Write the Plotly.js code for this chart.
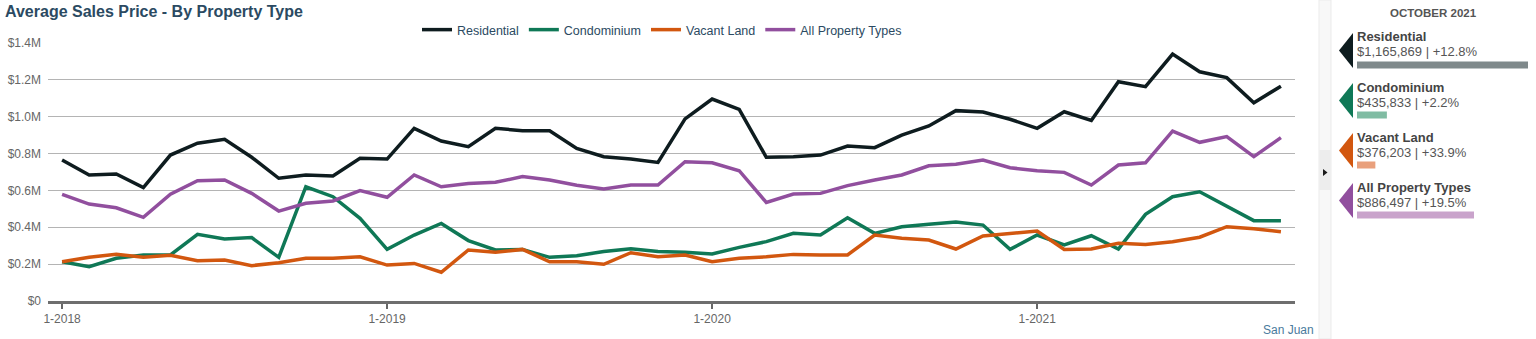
<!DOCTYPE html>
<html>
<head>
<meta charset="utf-8">
<script src="https://cdn.plot.ly/plotly-3.0.1.min.js"></script>
<style>
  html, body { margin: 0; padding: 0; background: #ffffff; }
  #chart { width: 1536px; height: 339px; }
</style>
</head>
<body>
<div id="chart"></div>
<script>
// ---------- DATA ----------
const months = [
  "1-2018","2-2018","3-2018","4-2018","5-2018","6-2018","7-2018","8-2018","9-2018","10-2018","11-2018","12-2018",
  "1-2019","2-2019","3-2019","4-2019","5-2019","6-2019","7-2019","8-2019","9-2019","10-2019","11-2019","12-2019",
  "1-2020","2-2020","3-2020","4-2020","5-2020","6-2020","7-2020","8-2020","9-2020","10-2020","11-2020","12-2020",
  "1-2021","2-2021","3-2021","4-2021","5-2021","6-2021","7-2021","8-2021","9-2021","10-2021"
];

const residential = [
  765000, 684000, 689000, 615000, 792000, 856000, 877000, 780000, 666000, 684000, 678000, 774000,
  770000, 937000, 868000, 837000, 937000, 924000, 924000, 828000, 783000, 770000, 752000, 988000,
  1096000, 1040000, 780000, 783000, 792000, 841000, 832000, 900000, 950000, 1033000, 1025000, 986000,
  937000, 1027000, 980000, 1190000, 1163000, 1340000, 1244000, 1212000, 1076000, 1165869
];

const condominium = [
  213000, 186000, 232000, 250000, 250000, 362000, 336000, 344000, 237000, 620000, 566000, 449000,
  280000, 358000, 421000, 328000, 277000, 280000, 237000, 246000, 268000, 284000, 268000, 264000,
  255000, 291000, 322000, 367000, 358000, 452000, 367000, 403000, 416000, 429000, 412000, 280000,
  358000, 304000, 354000, 282000, 470000, 566000, 593000, 512000, 436000, 435833
];

const vacantLand = [
  213000, 237000, 253000, 237000, 248000, 219000, 222000, 192000, 208000, 232000, 232000, 240000,
  195000, 204000, 156000, 277000, 264000, 280000, 213000, 213000, 199000, 262000, 240000, 250000,
  213000, 232000, 240000, 253000, 250000, 250000, 358000, 340000, 331000, 282000, 353000, 367000,
  380000, 280000, 282000, 313000, 307000, 322000, 346000, 403000, 392000, 376203
];

const allPropertyTypes = [
  579000, 526000, 506000, 454000, 580000, 653000, 657000, 584000, 488000, 530000, 543000, 599000,
  563000, 684000, 620000, 638000, 644000, 675000, 657000, 628000, 608000, 629000, 629000, 756000,
  750000, 707000, 535000, 580000, 584000, 626000, 657000, 684000, 734000, 742000, 765000, 723000,
  707000, 698000, 629000, 738000, 750000, 922000, 861000, 892000, 783000, 886497
];

const seriesNames = ["Residential", "Condominium", "Vacant Land", "All Property Types"];

const yTickValues = [0, 200000, 400000, 600000, 800000, 1000000, 1200000, 1400000];
const yTickLabels = ["$0", "$0.2M", "$0.4M", "$0.6M", "$0.8M", "$1.0M", "$1.2M", "$1.4M"];
const xTickValues = ["1-2018", "1-2019", "1-2020", "1-2021"];

const summaryMonth = "OCTOBER 2021";
const summaryValues = [1165869, 435833, 376203, 886497];
const summaryValueLabels = ["$1,165,869", "$435,833", "$376,203", "$886,497"];
const summaryChanges = ["+12.8%", "+2.2%", "+33.9%", "+19.5%"];
const footerLabel = "San Juan";

// ---------- STYLE ----------
const W = 1536, H = 339;
const M = { l: 48, r: 6, t: 43, b: 38 };
const PW = W - M.l - M.r, PH = H - M.t - M.b;
const px = x => (x - M.l) / PW;          // pixel x -> paper x
const py = y => (H - M.b - y) / PH;      // pixel y -> paper y

const lineColors = ["#0e1c1f", "#0f7856", "#d2570f", "#914f9e"];
const barColors = ["#7f898b", "#80bca3", "#e9a07c", "#c9a3cb"];
const FONT = "Liberation Sans, Arial, Helvetica, sans-serif";
const seriesData = [residential, condominium, vacantLand, allPropertyTypes];

const traces = seriesData.map((vals, i) => ({
  type: "scatter",
  mode: "lines",
  name: seriesNames[i],
  x: months,
  y: vals,
  xaxis: "x",
  yaxis: "y",
  line: { color: lineColors[i], width: 3.5 },
  hoverinfo: "skip"
}));

// summary bars (right panel)
traces.push({
  type: "bar",
  orientation: "h",
  x: summaryValues,
  y: seriesNames,
  xaxis: "x2",
  yaxis: "y2",
  width: 0.14,
  marker: { color: barColors },
  showlegend: false,
  hoverinfo: "skip"
});

const annotations = [];
const shapes = [];

annotations.push({
  xref: "paper", yref: "paper", x: px(1433), y: py(13),
  xanchor: "center", yanchor: "middle", showarrow: false,
  text: summaryMonth, font: { family: FONT, size: 11.5, color: "#555555", weight: "bold" }
});

seriesNames.forEach((nm, i) => {
  const off = 50 * i;
  annotations.push({
    xref: "paper", yref: "paper", x: px(1355), y: py(37 + off),
    xanchor: "left", yanchor: "middle", showarrow: false,
    text: nm, font: { family: FONT, size: 13, color: "#444444", weight: "bold" }
  });
  annotations.push({
    xref: "paper", yref: "paper", x: px(1355), y: py(52 + off),
    xanchor: "left", yanchor: "middle", showarrow: false,
    text: summaryValueLabels[i] + " | " + summaryChanges[i],
    font: { family: FONT, size: 13, color: "#555555" }
  });
  // arrow marker
  shapes.push({
    type: "path", xref: "paper", yref: "paper",
    path: `M ${px(1353)} ${py(33 + off)} L ${px(1339)} ${py(50.5 + off)} L ${px(1353)} ${py(68 + off)} Z`,
    fillcolor: lineColors[i], line: { width: 0 }
  });
});

// separator band
shapes.push({
  type: "rect", xref: "paper", yref: "paper",
  x0: px(1319), x1: px(1331), y0: py(0), y1: py(339),
  fillcolor: "#f8f8f8", line: { color: "#ebebeb", width: 1 }, layer: "below"
});
shapes.push({
  type: "rect", xref: "paper", yref: "paper",
  x0: px(1319.5), x1: px(1330.5), y0: py(150), y1: py(190),
  fillcolor: "#ededed", line: { width: 0 }, layer: "below"
});
shapes.push({
  type: "path", xref: "paper", yref: "paper",
  path: `M ${px(1323)} ${py(169)} L ${px(1327.5)} ${py(172.5)} L ${px(1323)} ${py(176)} Z`,
  fillcolor: "#1a1a1a", line: { width: 0 }
});

annotations.push({
  xref: "paper", yref: "paper", x: px(1316), y: py(330),
  xanchor: "right", yanchor: "middle", showarrow: false,
  text: footerLabel, font: { family: FONT, size: 12, color: "#4a7b9d" }
});

const layout = {
  width: W, height: H,
  margin: M,
  paper_bgcolor: "#ffffff",
  plot_bgcolor: "#ffffff",
  font: { family: FONT, size: 12, color: "#666666" },
  title: {
    text: "Average Sales Price - By Property Type",
    xref: "container", yref: "container",
    x: 5 / W, xanchor: "left",
    y: 1 - 11 / H, yanchor: "middle",
    font: { family: FONT, size: 16, color: "#2b4a62", weight: "bold" }
  },
  showlegend: true,
  legend: {
    orientation: "h",
    x: px(662), xanchor: "center",
    y: py(30), yanchor: "middle",
    font: { family: FONT, size: 12.5, color: "#2b4a62" },
    bgcolor: "rgba(0,0,0,0)",
    itemwidth: 30,
    tracegroupgap: 0
  },
  xaxis: {
    type: "category",
    categoryorder: "array",
    categoryarray: months,
    domain: [0, px(1295)],
    range: [-0.52, 45.52],
    tickmode: "array",
    tickvals: xTickValues,
    ticktext: xTickValues,
    ticks: "outside",
    ticklen: 5,
    tickwidth: 1.5,
    tickcolor: "#666666",
    showgrid: false,
    showline: true,
    linecolor: "#6e6e6e",
    linewidth: 2.5,
    zeroline: false,
    tickfont: { family: FONT, size: 12, color: "#666666" },
    anchor: "y",
    fixedrange: true
  },
  yaxis: {
    range: [0, 1400000],
    domain: [0, 1],
    tickmode: "array",
    tickvals: yTickValues,
    ticktext: yTickLabels,
    showgrid: true,
    gridcolor: "#b4b4b4",
    gridwidth: 1,
    zeroline: false,
    showline: false,
    ticks: "",
    ticklabelstandoff: 6,
    tickfont: { family: FONT, size: 12, color: "#666666" },
    anchor: "x",
    fixedrange: true
  },
  xaxis2: {
    domain: [px(1357), px(1528)],
    range: [281229, 1165869],
    visible: false,
    anchor: "y2",
    fixedrange: true
  },
  yaxis2: {
    type: "category",
    categoryorder: "array",
    categoryarray: seriesNames,
    domain: [py(240), py(45)],
    range: [3.5, -0.4],
    visible: false,
    anchor: "x2",
    fixedrange: true
  },
  annotations: annotations,
  shapes: shapes,
  hovermode: false
};

Plotly.newPlot("chart", traces, layout, { displayModeBar: false, staticPlot: true });
</script>
</body>
</html>
